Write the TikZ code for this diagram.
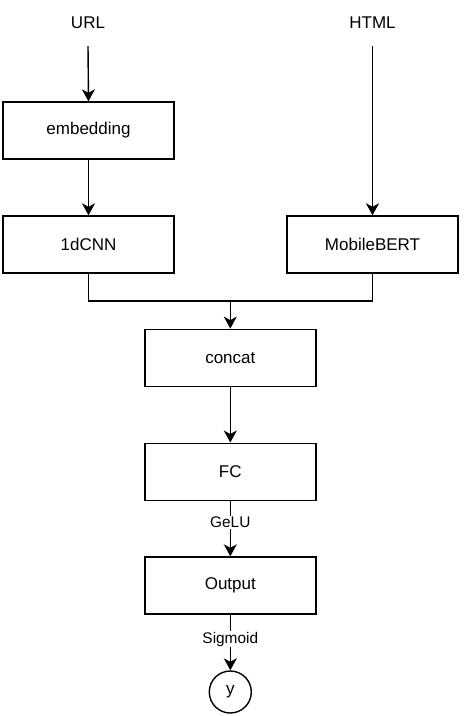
\documentclass[tikz,border=0pt]{standalone}
\usepackage{fontspec}
\setmainfont{Liberation Sans}
\usetikzlibrary{arrows.meta}
\begin{document}
\begin{tikzpicture}[x=1pt,y=-1pt,
  box/.style={draw, line width=1.4pt, minimum width=171pt, minimum height=57pt, inner sep=0pt, font=\fontsize{17}{20}\selectfont},
  txt/.style={inner sep=1pt, font=\fontsize{17}{20}\selectfont},
  lbl/.style={fill=white, inner sep=1pt, font=\fontsize{15.4}{18}\selectfont},
  arr/.style={line width=1.4pt, -{Stealth[length=12pt, width=13pt, inset=3.5pt]}},
  ln/.style={line width=1.4pt},
  circ/.style={draw, circle, line width=1.4pt, minimum size=42pt, inner sep=0pt, font=\fontsize{17}{20}\selectfont}
]
\useasboundingbox (0,0) rectangle (464,716);
\node[txt] (url) at (88,23) {URL};
\node[txt] (html) at (372.5,23) {HTML};
\coordinate (urlb) at (88,46);
\coordinate (htmlb) at (372.5,46);
\node[box] (emb) at (88.5,130.5) {embedding};
\node[box] (cnn) at (88.5,244.5) {1dCNN};
\node[box] (bert) at (372.5,244.5) {MobileBERT};
\node[box] (cat) at (230.3,357.8) {concat};
\node[box] (fc) at (230.3,471.7) {FC};
\node[box] (out) at (230.3,585.5) {Output};
\node[circ] (y) at (230.3,692) {y};
\coordinate (merge) at (230.3,301);
\draw[arr] (urlb) -- (emb.north);
\draw[arr] (emb) -- (cnn);
\draw[arr] (htmlb) -- (bert.north);
\draw[ln] (cnn.south) |- (merge) -| (bert.south);
\draw[arr] (merge) -- (cat.north);
\draw[arr] (cat) -- (fc);
\draw[arr] (fc) -- node[lbl, pos=0.39] {GeLU} (out);
\draw[arr] (out) -- node[lbl, pos=0.44] {Sigmoid} (y);
\end{tikzpicture}
\end{document}
